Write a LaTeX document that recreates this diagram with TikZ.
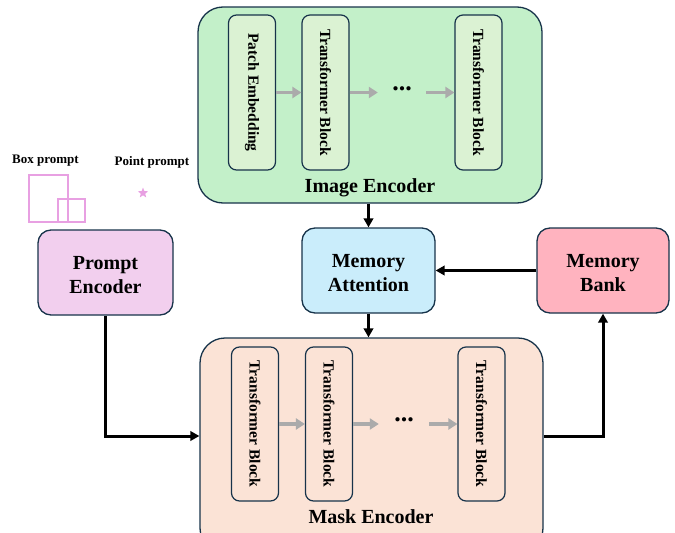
\documentclass[tikz,border=0pt]{standalone}
\usepackage{fontspec}
\setmainfont{Liberation Serif}
\usetikzlibrary{arrows.meta,shapes.geometric}
\definecolor{bord}{HTML}{17334A}
\definecolor{iefill}{HTML}{C3F0C9}
\definecolor{ieblk}{HTML}{DBF2D3}
\definecolor{mefill}{HTML}{FBE3D6}
\definecolor{mafill}{HTML}{CAEDFB}
\definecolor{mbfill}{HTML}{FFB3BF}
\definecolor{pefill}{HTML}{F2CFEE}
\definecolor{pinkc}{HTML}{E8A0E2}
\definecolor{grayarr}{HTML}{ABABAB}
\newcommand{\topstrut}{\rule{0pt}{18.5pt}}
\tikzset{
  container/.style={draw=bord, line width=1.3pt, rounded corners=25pt, inner sep=0pt},
  blk/.style={draw=bord, line width=1.2pt, rounded corners=8pt, rotate=-90,
    minimum width=155pt, minimum height=47pt, inner sep=0pt,
    font=\fontsize{15.5}{16}\selectfont\bfseries},
  mod/.style={draw=bord, line width=1.3pt, rounded corners=13pt, inner sep=0pt,
    minimum width=133pt, minimum height=85pt, align=center,
    font=\fontsize{20}{24}\selectfont\bfseries},
  title/.style={font=\fontsize{20}{24}\selectfont\bfseries, inner sep=0pt},
  small/.style={font=\fontsize{13}{15}\selectfont\bfseries, inner sep=0pt},
  dotsn/.style={font=\fontsize{26}{28}\selectfont\bfseries, inner sep=0pt, minimum height=10pt},
  arr/.style={line width=3pt, -{Triangle[length=9pt,width=9.5pt]}},
  garr/.style={draw=grayarr, line width=3.4pt, -{Triangle[length=9pt,width=11pt]}},
}
\begin{document}
\begin{tikzpicture}[x=1pt,y=-1pt]
\useasboundingbox (0,0) rectangle (675,533);
\clip (0,0) rectangle (675,533);

% Image encoder
\node[container, fill=iefill, minimum width=344pt, minimum height=196pt] (ie) at (370,105) {};
\node[blk, fill=ieblk] (pe1) at (252,92.5) {Patch Embedding};
\node[blk, fill=ieblk] (tb1) at (325.5,92.5) {Transformer Block};
\node[blk, fill=ieblk] (tb2) at (478.5,92.5) {Transformer Block};
\node[dotsn, minimum width=48pt] (d1) at (402,89) {...};
\node[title] (iel) at (370,188) {Image Encoder};
\draw[garr] (pe1.north) -- (tb1.south);
\draw[garr] (tb1.north) -- (tb1.north -| d1.west);
\draw[garr] (tb2.south -| d1.east) -- (tb2.south);

% Mask encoder
\node[container, fill=mefill, minimum width=343pt, minimum height=215pt] (me) at (371.5,445.5) {};
\node[blk, fill=mefill, minimum width=154pt] (mb1) at (255,424) {Transformer Block};
\node[blk, fill=mefill, minimum width=154pt] (mb2) at (329,424) {Transformer Block};
\node[blk, fill=mefill, minimum width=154pt] (mb3) at (481.5,424) {Transformer Block};
\node[dotsn, minimum width=50pt] (d2) at (404,420) {...};
\node[title] (mel) at (371,517) {Mask Encoder};
\draw[garr] (mb1.north) -- (mb2.south);
\draw[garr] (mb2.north) -- (mb2.north -| d2.west);
\draw[garr] (mb3.south -| d2.east) -- (mb3.south);

% Modules
\node[mod, fill=mafill] (ma) at (368.5,270.5) {\topstrut Memory\\Attention};
\node[mod, fill=mbfill, minimum width=132pt] (mbk) at (603,270.5) {\topstrut Memory\\Bank};
\node[mod, fill=pefill, minimum width=135pt] (pe) at (105.5,272.5) {\topstrut Prompt\\Encoder};

% Prompts
\node[small] (bpl) at (45.5,160.5) {Box prompt};
\node[small] (ppl) at (152,162.5) {Point prompt};
\node[draw=pinkc, line width=1.4pt, minimum width=39pt, minimum height=47pt, inner sep=0pt] (bx1) at (48.5,198.5) {};
\node[draw=pinkc, line width=1.4pt, minimum width=27pt, minimum height=23pt, inner sep=0pt] (bx2) at (71.5,210.5) {};
\node[star, star points=5, star point ratio=2.4, fill=pinkc, minimum size=11pt, inner sep=0pt] (st) at (143,193) {};

% Connectors
\coordinate (row) at (0,436);
\draw[arr] (ma.north |- ie.south) -- (ma.north);
\draw[arr] (ma.south) -- (ma.south |- me.north);
\draw[arr] (mbk.west) -- (ma.east);
\draw[arr] (pe.south) |- (me.west |- row);
\draw[arr] (me.east |- row) -| (mbk.south);
\end{tikzpicture}
\end{document}
